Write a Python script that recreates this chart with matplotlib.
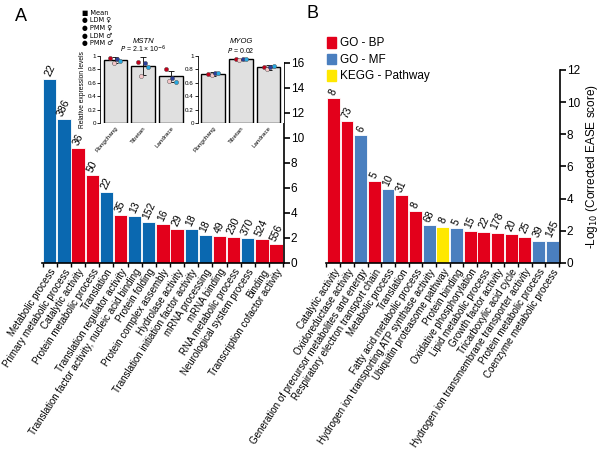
import numpy as np
import matplotlib
matplotlib.use("Agg")
import matplotlib.pyplot as plt
from matplotlib.patches import Patch

plt.rcParams["font.family"] = ["Liberation Sans", "DejaVu Sans"]

# ── Datos panel A ─────────────────────────────────────────────────
cats_a = ["Metabolic process", "Primary metabolic process", "Catalytic activity",
          "Protein metabolic process", "Translation", "Translation regulator activity",
          "Translation factor activity, nucleic acid binding", "Protein folding",
          "Protein complex assembly", "Hydrolase activity",
          "Translation initiation factor activity", "mRNA processing", "mRNA binding",
          "RNA metabolic process", "Neurological system process", "Binding",
          "Transcription cofactor activity"]
vals_a = [14.7, 11.5, 9.2, 7.0, 5.7, 3.8, 3.75, 3.3, 3.1, 2.75, 2.72, 2.22, 2.15,
          2.08, 2.02, 1.95, 1.5]
counts_a = [22, 386, 36, 50, 22, 35, 13, 152, 16, 29, 18, 18, 49, 230, 370, 524, 556]
grp_a = ["b", "b", "r", "r", "b", "r", "b", "b", "r", "r", "b", "b", "r", "r", "b", "r", "r"]

# ── Datos panel B ─────────────────────────────────────────────────
cats_b = ["Catalytic activity", "Oxidoreductase activity",
          "Generation of precursor metabolites and energy",
          "Respiratory electron transport chain", "Metabolic process", "Translation",
          "Fatty acid metabolic process",
          "Hydrogen ion transporting ATP synthase activity",
          "Ubiquitin proteasome pathway", "Protein binding",
          "Oxidative phosphorylation", "Lipid metabolic process",
          "Growth factor activity", "Tricarboxylic acid cycle",
          "Hydrogen ion transmembrane transporter activity",
          "Protein metabolic process", "Coenzyme metabolic process"]
vals_b = [10.25, 8.8, 7.95, 5.09, 4.6, 4.2, 3.22, 2.34, 2.24, 2.17, 1.99, 1.95,
          1.89, 1.78, 1.64, 1.37, 1.37]
counts_b = [8, 73, 6, 5, 10, 31, 8, 68, 8, 5, 15, 22, 178, 20, 25, 39, 145]
grp_b = ["BP", "BP", "MF", "BP", "MF", "BP", "BP", "MF", "KEGG", "MF", "BP", "BP",
         "BP", "BP", "BP", "MF", "MF"]

# ── Datos inserto (qPCR) ──────────────────────────────────────────
razas = ["Rongchang", "Tibetan", "Landrace"]
mstn_mean = [0.94, 0.85, 0.70]
mstn_sd = [0.05, 0.13, 0.08]
mstn_pts = [[0.97, 0.89, 0.96, 0.93],
            [0.91, 0.70, 0.89, 0.84],
            [0.80, 0.63, 0.68, 0.61]]
myog_mean = [0.73, 0.95, 0.83]
myog_sd = [0.03, 0.01, 0.04]
myog_pts = [[0.73, 0.71, 0.74, 0.75],
            [0.95, 0.94, 0.95, 0.96],
            [0.84, 0.81, 0.83, 0.85]]
pt_names = ["LDM ♀", "PMM ♀", "LDM ♂", "PMM ♂"]

# ── Paleta ────────────────────────────────────────────────────────
COL_A = {"b": "#0A68B0", "r": "#E3001B"}
COL_B = {"BP": "#E3001B", "MF": "#4A7FBF", "KEGG": "#FFE800"}
PT_COL = ["#C0001A", "#F6C6C8", "#2B3E9A", "#27A8E0"]

fig = plt.figure(figsize=(6, 4.63), dpi=100)


def barras(ax, vals, counts, cats, cols, ymax, step):
    x = np.arange(len(vals))
    ax.bar(x, vals, width=0.94, color=cols, edgecolor="white", linewidth=0.6)
    for xi, v, c in zip(x, vals, counts):
        ax.text(xi, v + 0.1, str(c), rotation=65, ha="center", va="bottom", fontsize=7.5)
    ax.set_xlim(-0.55, len(vals) - 0.45)
    ax.set_ylim(0, ymax)
    ax.set_yticks(np.arange(0, ymax + 0.1, step))
    ax.yaxis.tick_right()
    for s in ["left", "top"]:
        ax.spines[s].set_visible(False)
    ax.spines["right"].set_linewidth(1.2)
    ax.spines["bottom"].set_linewidth(1.2)
    ax.set_xticks(x)
    ax.set_xticklabels(cats, rotation=57, ha="right", rotation_mode="anchor", fontsize=7)
    ax.set_xticks(np.arange(-0.5, len(vals)), minor=True)
    ax.tick_params(axis="x", which="major", length=0, pad=3)
    ax.tick_params(axis="x", which="minor", length=3, width=1)
    ax.tick_params(axis="y", labelsize=8.5, length=4, width=1.2, pad=1)


# Panel A
axA = fig.add_axes([0.07, 0.432, 0.403, 0.432])
barras(axA, vals_a, counts_a, cats_a, [COL_A[g] for g in grp_a], 16, 2)
fig.text(0.025, 0.965, "A", fontsize=13, va="center")

# Panel B
axB = fig.add_axes([0.543, 0.432, 0.39, 0.417])
barras(axB, vals_b, counts_b, cats_b, [COL_B[g] for g in grp_b], 12, 2)
axB.yaxis.set_label_position("right")
axB.set_ylabel("-Log$_{10}$ (Corrected EASE score)", fontsize=8.5, labelpad=3)
fig.text(0.51, 0.97, "B", fontsize=13, va="center")
handles = [Patch(color=COL_B[k]) for k in ["BP", "MF", "KEGG"]]
fig.legend(handles, ["GO - BP", "GO - MF", "KEGG - Pathway"], loc="upper left",
           bbox_to_anchor=(0.537, 0.93), frameon=False, fontsize=8.5,
           handlelength=0.8, handleheight=1.0, handletextpad=0.3,
           labelspacing=0.35, borderaxespad=0)

# Inserto
def inserto(rect, means, sds, pts, gene, ptxt, ylabel):
    ax = fig.add_axes(rect)
    x = np.arange(len(means))
    ax.bar(x, means, width=0.85, color="#E0E0E0", edgecolor="black", linewidth=1.0, zorder=1)
    ax.errorbar(x, means, yerr=sds, fmt="none", ecolor="black", elinewidth=0.6,
                capsize=2, capthick=0.6, zorder=3)
    offs = [-0.18, -0.06, 0.06, 0.18]
    for i, grp in enumerate(pts):
        for j, v in enumerate(grp):
            ax.scatter(x[i] + offs[j], v, s=9, color=PT_COL[j], edgecolor="#444444",
                       linewidth=0.3, zorder=4)
    ax.set_xlim(-0.55, 2.55)
    ax.set_ylim(0, 1.0)
    ax.set_yticks([0, 0.2, 0.4, 0.6, 0.8, 1])
    ax.set_yticklabels(["0", "0.2", "0.4", "0.6", "0.8", "1"])
    ax.set_xticks(x)
    ax.set_xticklabels(razas, rotation=50, ha="right", rotation_mode="anchor", fontsize=4.5)
    ax.tick_params(axis="y", labelsize=4.5, length=2, width=0.6, pad=1)
    ax.tick_params(axis="x", length=0, pad=2)
    for s in ["top", "right", "bottom"]:
        ax.spines[s].set_visible(False)
    ax.spines["left"].set_linewidth(0.6)
    ax.text(1, 1.2, gene, style="italic", ha="center", fontsize=5.5)
    ax.text(1, 1.05, ptxt, ha="center", fontsize=5)
    if ylabel:
        ax.set_ylabel("Relative expression levels", fontsize=4.8, labelpad=1)
    return ax


inserto([0.167, 0.734, 0.143, 0.145], mstn_mean, mstn_sd, mstn_pts, "MSTN",
        "$P$ = 2.1 × 10$^{-6}$", True)
inserto([0.33, 0.734, 0.143, 0.145], myog_mean, myog_sd, myog_pts, "MYOG",
        "$P$ = 0.02", False)

# Leyenda del inserto
ley = ["■ Mean"] + ["● " + n for n in pt_names]
for k, t in enumerate(ley):
    fig.text(0.137, 0.972 - k * 0.0162, t, fontsize=4.8, va="center",
             family=["DejaVu Sans"])

fig.savefig("out.png", dpi=100)
